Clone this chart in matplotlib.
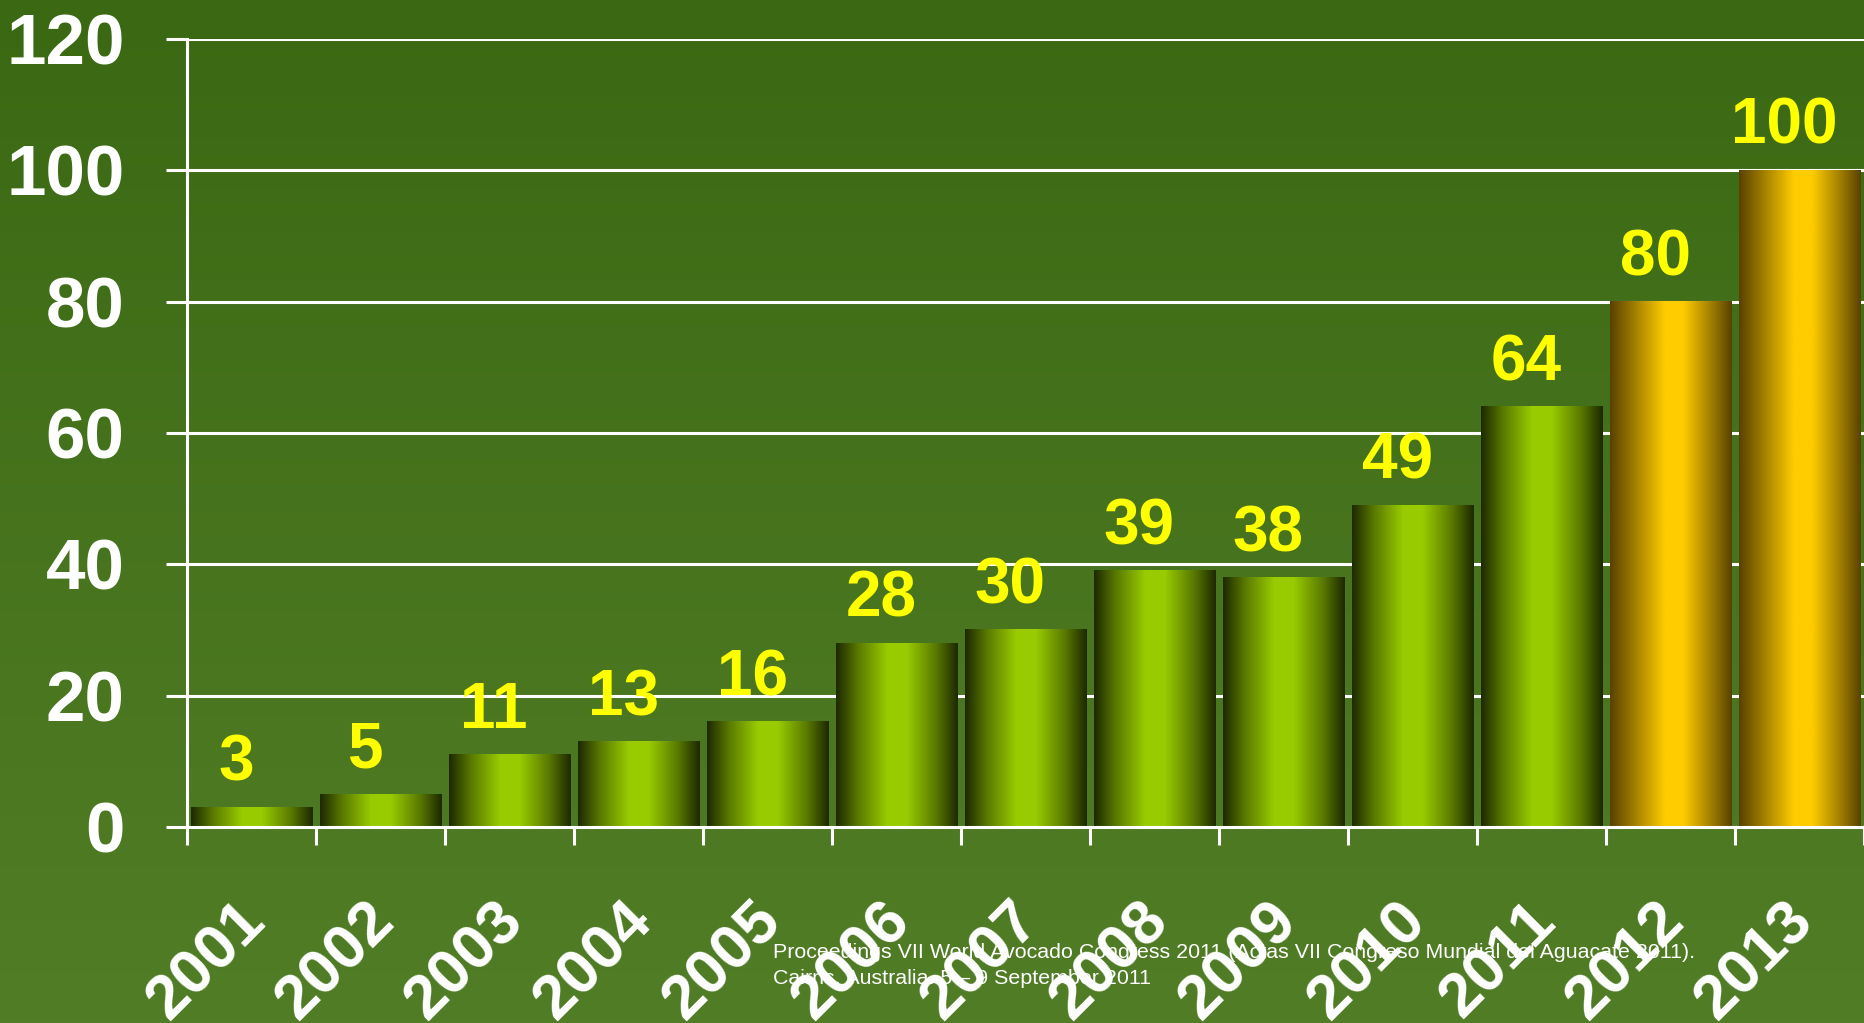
import numpy as np
import matplotlib.pyplot as plt
from matplotlib.colors import LinearSegmentedColormap

# data
years = ['2001', '2002', '2003', '2004', '2005', '2006', '2007',
         '2008', '2009', '2010', '2011', '2012', '2013']
values = [3, 5, 11, 13, 16, 28, 30, 39, 38, 49, 64, 80, 100]
forecast = [False] * 11 + [True, True]
yticks = [0, 20, 40, 60, 80, 100, 120]
note_1 = 'Proceedings VII World Avocado Congress 2011 (Actas VII Congreso Mundial del Aguacate 2011).'
note_2 = 'Cairns, Australia. 5 \u2013 9 September 2011'

plt.rcParams['font.family'] = ['Liberation Sans', 'DejaVu Sans']

# cylinder-like horizontal shading for the bars
green_cmap = LinearSegmentedColormap.from_list('green', [
    (0.0, '#1e2a00'), (0.18, '#5a7a00'), (0.42, '#99cc00'),
    (0.58, '#99cc00'), (0.82, '#5a7a00'), (1.0, '#1e2a00')])
gold_cmap = LinearSegmentedColormap.from_list('gold', [
    (0.0, '#5a4200'), (0.18, '#9a7800'), (0.45, '#ffcc00'),
    (0.6, '#ffcc00'), (0.85, '#9a7800'), (1.0, '#5a4200')])

fig = plt.figure(figsize=(18.64, 10.23), dpi=100)

# background: vertical green gradient
bg = fig.add_axes([0, 0, 1, 1], zorder=-10)
grad = np.linspace(0, 1, 256).reshape(-1, 1)
bg_cmap = LinearSegmentedColormap.from_list('bg', ['#3b6913', '#517d26'])
bg.imshow(grad, aspect='auto', cmap=bg_cmap, extent=[0, 1, 1, 0])
bg.axis('off')

ax = fig.add_axes([0.1003, 0.1916, 0.8997, 0.7703])
ax.set_facecolor('none')

x = np.arange(len(years))
bars = ax.bar(x, values, width=0.945, color='none', edgecolor='none', zorder=3)

row = np.linspace(0, 1, 200).reshape(1, -1)
for b, fc in zip(bars, forecast):
    x0, y0 = b.get_x(), b.get_y()
    ax.imshow(row, aspect='auto', cmap=gold_cmap if fc else green_cmap,
              extent=[x0, x0 + b.get_width(), y0, y0 + b.get_height()],
              zorder=3, interpolation='bilinear')

for xi, v in zip(x, values):
    ax.annotate(str(v), (xi, v), xytext=(-11, 19), textcoords='offset points',
                ha='center', va='baseline', fontsize=46, fontweight='bold',
                color='#ffff00', zorder=5)

ax.set_xlim(-0.5, len(years) - 0.5)
ax.set_ylim(0, 120)

ax.set_yticks(yticks)
ax.set_yticklabels([str(t) for t in yticks])
ax.yaxis.grid(True, color='white', linewidth=2.2, zorder=1)
ax.set_axisbelow(True)
ax.tick_params(axis='y', length=15, width=2.2, color='white', pad=30,
               labelsize=51, labelcolor='white')
for lab in ax.get_yticklabels():
    lab.set_fontweight('bold')

# ticks at category boundaries, labels at centres
ax.set_xticks(np.arange(-0.5, len(years), 1.0))
ax.set_xticklabels([])
ax.set_xticks(x + 0.2, minor=True)
ax.set_xticklabels(years, minor=True, rotation=45, ha='right', va='top',
                   fontsize=45, fontweight='bold', color='white')
ax.tick_params(axis='x', which='major', length=13, width=2.2, color='white')
ax.tick_params(axis='x', which='minor', length=0, pad=46)

for side in ['top', 'right']:
    ax.spines[side].set_visible(False)
for side in ['left', 'bottom']:
    ax.spines[side].set_color('white')
    ax.spines[side].set_linewidth(2.2)
    ax.spines[side].set_zorder(4)

fig.text(0.4147, 1 - 958 / 1023, note_1, fontsize=15.4, color='white', va='baseline', zorder=-5)
fig.text(0.4147, 1 - 984 / 1023, note_2, fontsize=15.4, color='white', va='baseline', zorder=-5)

fig.savefig('out.png', dpi=100)
